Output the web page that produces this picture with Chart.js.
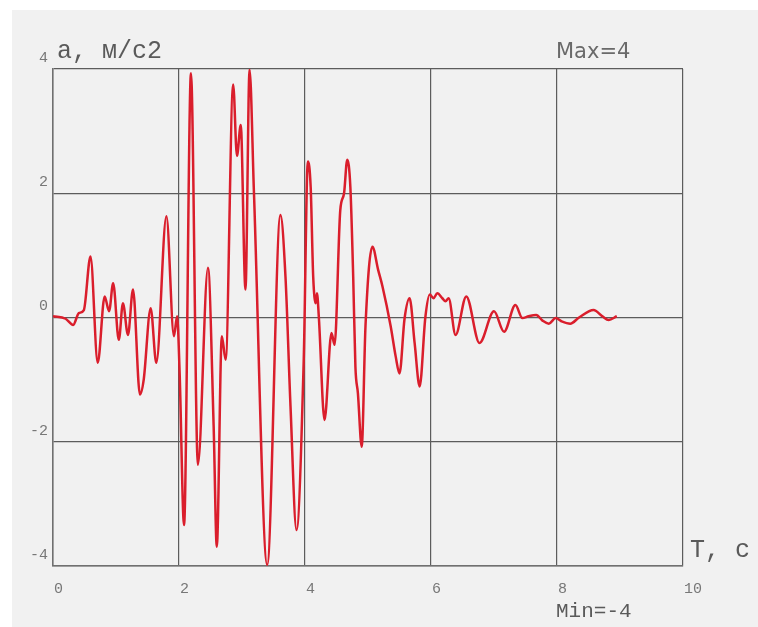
<!DOCTYPE html>
<html>
<head>
<meta charset="utf-8">
<script src="https://cdn.jsdelivr.net/npm/chart.js@4"></script>
<style>
  body { margin: 0; background: #fff; }
  canvas { display: block; }
</style>
</head>
<body>
<canvas id="accelChart" width="758" height="627"></canvas>
<script>
// time, s
const times = [
	0.00, 0.20, 0.32, 0.41, 0.49, 0.595, 0.71, 0.82, 0.89, 0.955,
	1.045, 1.11, 1.19, 1.27, 1.38, 1.44, 1.55, 1.64, 1.80, 1.92,
	1.97, 2.01, 2.08, 2.19, 2.30, 2.46, 2.55, 2.60, 2.68, 2.74,
	2.86, 2.92, 2.98, 3.055, 3.12, 3.19, 3.40, 3.61, 3.69, 3.77,
	3.865, 3.98, 4.045, 4.09, 4.13, 4.17, 4.19, 4.22, 4.31, 4.42,
	4.47, 4.56, 4.62, 4.67, 4.72, 4.765, 4.80, 4.84, 4.90, 4.96,
	5.07, 5.16, 5.23, 5.36, 5.44, 5.50, 5.58, 5.66, 5.74, 5.82,
	5.91, 5.98, 6.04, 6.10, 6.18, 6.23, 6.28, 6.39, 6.56, 6.77,
	7.00, 7.16, 7.34, 7.45, 7.55, 7.67, 7.77, 7.87, 7.98, 8.07,
	8.21, 8.35, 8.58, 8.72, 8.82, 8.95,
];
// acceleration, m/s2
const accel = [
	0.02, -0.02, -0.12, 0.07, 0.12, 0.98, -0.73, 0.34, 0.10, 0.55,
	-0.36, 0.23, -0.28, 0.45, -1.24, -1.00, 0.15, -0.73, 1.63, -0.30,
	0.02, -0.89, -3.34, 3.93, -2.37, 0.80, -1.75, -3.69, -0.30, -0.68,
	3.75, 2.60, 3.10, 0.45, 3.99, 2.00, -3.98, 1.65, 0.66, -1.43,
	-3.42, -0.68, 2.51, 2.10, 0.66, 0.23, 0.39, 0.00, -1.65, -0.25,
	-0.44, 1.73, 2.00, 2.54, 2.10, 0.66, -0.79, -1.22, -2.08, -0.14,
	1.14, 0.77, 0.50, -0.14, -0.63, -0.90, -0.02, 0.31, -0.41, -1.11,
	0.00, 0.37, 0.31, 0.39, 0.31, 0.26, 0.31, -0.28, 0.34, -0.41,
	0.10, -0.23, 0.20, -0.01, 0.02, 0.04, -0.05, -0.10, -0.01, -0.06,
	-0.10, 0.00, 0.12, 0.02, -0.04, 0.02,
];
const xTicks = [0, 2, 4, 6, 8, 10];
const yTicks = [-4, -2, 0, 2, 4];

const points = times.map((t, i) => ({ x: t, y: accel[i] }));

const tickFont = { family: "Liberation Mono", size: 15 };

// gray backdrop and the free text labels
const decorPlugin = {
	id: "decor",
	beforeDraw(chart) {
		const ctx = chart.ctx;
		ctx.save();
		ctx.fillStyle = "#f1f1f1";
		ctx.fillRect(12, 10, 746, 617);
		ctx.restore();
	},
	afterDraw(chart) {
		const ctx = chart.ctx;
		ctx.save();
		ctx.textBaseline = "alphabetic";
		ctx.textAlign = "left";
		ctx.fillStyle = "#5a5a5a";
		ctx.font = "25px 'Liberation Mono'";
		ctx.fillText("a, м/с2", 57, 58);
		ctx.fillText("T, с", 690, 557);
		ctx.font = "21px 'Liberation Mono'";
		ctx.fillText("Min=-4", 556, 617);
		ctx.fillStyle = "#6a6a6a";
		ctx.font = "21px 'DejaVu Sans'";
		ctx.fillText("Max=4", 556, 58);
		ctx.restore();
	},
};

new Chart(document.getElementById("accelChart"), {
	type: "line",
	data: {
		datasets: [
			{
				data: points,
				borderColor: "#da1e2c",
				borderWidth: 2.5,
				pointRadius: 0,
				cubicInterpolationMode: "monotone",
				fill: false,
			},
		],
	},
	options: {
		responsive: false,
		animation: false,
		layout: {
			padding: { left: 13, right: 75, top: 69, bottom: 31 },
		},
		plugins: {
			legend: { display: false },
			tooltip: { enabled: false },
		},
		scales: {
			x: {
				type: "linear",
				min: 0,
				max: 10,
				afterFit: (scale) => {
					scale.height = 30;
				},
				afterBuildTicks: (scale) => {
					scale.ticks = xTicks.map((v) => ({ value: v }));
				},
				grid: { color: "#5c5c5c", lineWidth: 1.2, drawTicks: false },
				border: { color: "#707070", width: 1.5 },
				ticks: {
					color: "#777777",
					font: tickFont,
					padding: 14,
					align: "start",
					labelOffset: 1,
					maxRotation: 0,
				},
			},
			y: {
				min: -4,
				max: 4,
				afterFit: (scale) => {
					scale.width = 40;
				},
				afterBuildTicks: (scale) => {
					scale.ticks = yTicks.map((v) => ({ value: v }));
				},
				grid: { color: "#5c5c5c", lineWidth: 1.2, drawTicks: false },
				border: { color: "#707070", width: 1.5 },
				ticks: {
					color: "#777777",
					font: tickFont,
					padding: 5,
					labelOffset: -11,
				},
			},
		},
	},
	plugins: [decorPlugin],
});
</script>
</body>
</html>
